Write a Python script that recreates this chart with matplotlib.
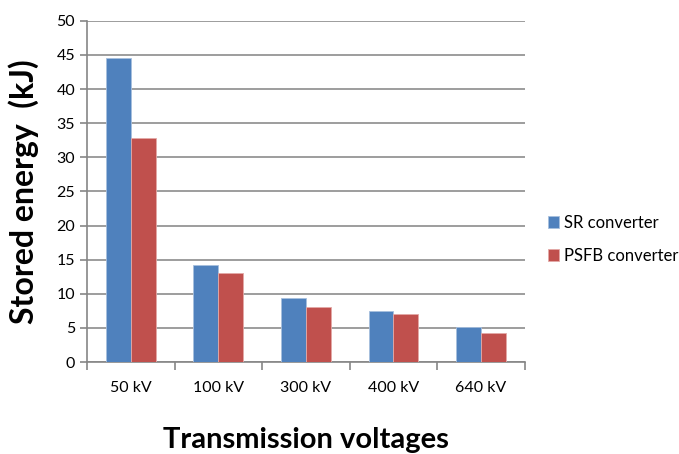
import numpy as np
import matplotlib.pyplot as plt

# data
voltages = ["50 kV", "100 kV", "300 kV", "400 kV", "640 kV"]
sr_energy = [44.5, 14.2, 9.4, 7.5, 5.2]
psfb_energy = [32.8, 13.0, 8.1, 7.0, 4.2]

plt.rcParams['font.family'] = ['Lato', 'DejaVu Sans']

fig = plt.figure(figsize=(6.79, 4.54), dpi=100)
ax = fig.add_axes([0.128, 0.2026, 0.645, 0.7514])

x = np.arange(len(voltages))
w = 0.285
ax.bar(x - w / 2, sr_energy, w, color="#4F81BD", edgecolor="#A7BFDE", linewidth=0.6,
       label="SR converter", zorder=3)
ax.bar(x + w / 2, psfb_energy, w, color="#C0504D", edgecolor="#E3A9A7", linewidth=0.6,
       label="PSFB converter", zorder=3)

ax.set_xlim(-0.5, len(voltages) - 0.5)
ax.set_ylim(0, 50)
ax.set_yticks(np.arange(0, 51, 5))
ax.yaxis.grid(True, color="#8C8C8C", linewidth=1.2, zorder=0)

ax.set_xticks(x)
ax.set_xticklabels(voltages)
ax.set_xticks(np.arange(-0.5, len(voltages), 1), minor=True)
ax.tick_params(axis="x", which="major", length=0, pad=14, labelsize=11.5)
ax.tick_params(axis="x", which="minor", length=6, color="#868686", width=1.2)
ax.tick_params(axis="y", length=5, color="#868686", width=1.2, labelsize=11.5)

for side in ["top", "right"]:
    ax.spines[side].set_visible(False)
for side in ["left", "bottom"]:
    ax.spines[side].set_color("#868686")
    ax.spines[side].set_linewidth(1.2)

# axis titles placed in figure pixels / size
fig.text(24 / 679, 1 - 192 / 454, "Stored energy  (kJ)", rotation=90,
         ha="center", va="center", fontsize=23, fontweight="bold")
fig.text(306 / 679, 1 - 440 / 454, "Transmission voltages",
         ha="center", va="center", fontsize=21, fontweight="bold")

ax.legend(loc="center left", bbox_to_anchor=(1.018, 0.36), frameon=False,
          fontsize=12, handlelength=0.7, handleheight=0.7, handletextpad=0.3,
          labelspacing=1.0)

fig.savefig("out.png", dpi=100)
